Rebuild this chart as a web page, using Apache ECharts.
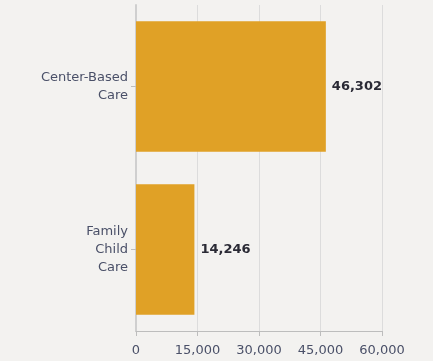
<!DOCTYPE html>
<html>
<head>
<meta charset="utf-8">
<style>
  html, body { margin: 0; padding: 0; background: #f3f2f0; }
  #chart { width: 433px; height: 361px; }
</style>
<script src="https://cdn.jsdelivr.net/npm/echarts@6/dist/echarts.min.js"></script>
</head>
<body>
<div id="chart"></div>
<script>
const categories = ["Center-Based\nCare", "Family\nChild\nCare"];
const values = [46302, 14246];
const tickMax = 60000;
const tickStep = 15000;

const chart = echarts.init(document.getElementById("chart"));
const font = "DejaVu Sans";

chart.setOption({
  backgroundColor: "#f3f2f0",
  animation: false,
  grid: { left: 136, right: 51, top: 5, bottom: 30 },
  xAxis: {
    type: "value",
    min: 0,
    max: tickMax,
    interval: tickStep,
    axisLine: { show: true, lineStyle: { color: "#bdbdbd", width: 1 } },
    axisTick: { show: true, length: 5, lineStyle: { color: "#bdbdbd" } },
    splitLine: { show: true, lineStyle: { color: "#dcdcdc", width: 1 } },
    axisLabel: {
      color: "#4a5068",
      fontFamily: font,
      fontSize: 13,
      margin: 13,
      formatter: (v) => v.toLocaleString("en-US")
    }
  },
  yAxis: {
    type: "category",
    inverse: true,
    data: categories,
    axisLine: { show: true, lineStyle: { color: "#cfcfcf", width: 2 } },
    axisTick: { show: true, length: 5, alignWithLabel: true, lineStyle: { color: "#bdbdbd" } },
    axisLabel: {
      color: "#4a5068",
      fontFamily: font,
      fontSize: 13,
      lineHeight: 18,
      margin: 8,
      align: "right"
    }
  },
  series: [
    {
      type: "bar",
      data: values,
      barCategoryGap: "20%",
      itemStyle: { color: "#e0a126" },
      label: {
        show: true,
        position: "right",
        distance: 6,
        color: "#2a2a35",
        fontFamily: font,
        fontSize: 13,
        fontWeight: "bold",
        formatter: (p) => p.value.toLocaleString("en-US")
      }
    }
  ]
});
</script>
</body>
</html>
